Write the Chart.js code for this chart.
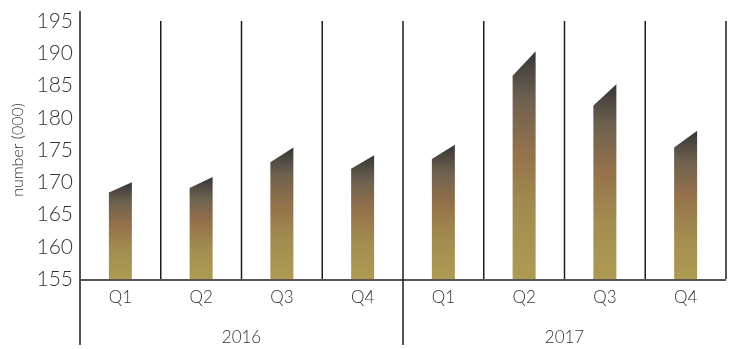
<!DOCTYPE html>
<html lang="en">
  <head>
    <meta charset="UTF-8" />
    <title>Quarterly numbers 2016-2017</title>
    <script src="https://cdn.jsdelivr.net/npm/chart.js@4.4.1/dist/chart.umd.min.js"></script>
    <style>
      body {
        margin: 0;
        background: #fff;
      }
      #chartContainer {
        width: 730px;
        height: 349px;
      }
    </style>
  </head>
  <body>
    <div id="chartContainer">
      <canvas id="quarterChart"></canvas>
    </div>

    <script>
      const quarters = ['Q1', 'Q2', 'Q3', 'Q4', 'Q1', 'Q2', 'Q3', 'Q4'];
      const years = ['2016', '2017'];
      // value at the right (high) edge of each bar
      const highValues = [170.0, 170.8, 175.4, 174.2, 175.8, 190.3, 185.2, 178.0];
      // value at the left (low) edge of the slanted top
      const lowValues = [168.4, 169.1, 173.1, 172.1, 173.6, 186.5, 181.9, 175.4];
      const yMin = 155;
      const yMax = 195;
      const yStep = 5;

      const textColor = '#333';
      const fontFamily = "Lato, 'DejaVu Sans', sans-serif";

      // frame lines: y axis, baseline, quarter and year dividers
      const frameLines = {
        id: 'frameLines',
        beforeDatasetsDraw(chart) {
          const { ctx, scales: { x, y } } = chart;
          const top = y.getPixelForValue(yMax);
          const base = y.getPixelForValue(yMin);
          const left = x.getPixelForValue(-0.5);
          const right = x.getPixelForValue(quarters.length - 0.5);
          ctx.save();
          ctx.strokeStyle = '#1c1c1c';
          ctx.lineWidth = 1.5;
          for (let i = 1; i <= quarters.length; i++) {
            const px = x.getPixelForValue(i - 0.5);
            const yearEnd = i === quarters.length / years.length;
            ctx.beginPath();
            ctx.moveTo(px, top);
            ctx.lineTo(px, yearEnd ? chart.height - 4 : base);
            ctx.stroke();
          }
          ctx.beginPath();
          ctx.moveTo(left, base + 1);
          ctx.lineTo(right, base + 1);
          ctx.stroke();

          ctx.strokeStyle = '#555';
          ctx.lineWidth = 2;
          ctx.beginPath();
          ctx.moveTo(left, top - 10);
          ctx.lineTo(left, chart.height - 4);
          ctx.stroke();
          ctx.restore();
        },
      };

      // bars with a slanted top, shaded bottom to top
      const slantBars = {
        id: 'slantBars',
        afterDatasetsDraw(chart) {
          const { ctx, scales: { y } } = chart;
          const meta = chart.getDatasetMeta(0);
          const base = y.getPixelForValue(yMin);
          ctx.save();
          meta.data.forEach((bar, i) => {
            const { x, width } = bar.getProps(['x', 'width'], true);
            const yHigh = y.getPixelForValue(highValues[i]);
            const yLow = y.getPixelForValue(lowValues[i]);
            const l = x - width / 2;
            const r = x + width / 2;
            const grad = ctx.createLinearGradient(0, base, 0, yHigh);
            grad.addColorStop(0, '#ae9b52');
            grad.addColorStop(0.3, '#a28c50');
            grad.addColorStop(0.56, '#94714a');
            grad.addColorStop(0.8, '#6c604f');
            grad.addColorStop(1, '#363636');
            ctx.fillStyle = grad;
            ctx.beginPath();
            ctx.moveTo(l, base);
            ctx.lineTo(l, yLow);
            ctx.lineTo(r, yHigh);
            ctx.lineTo(r, base);
            ctx.closePath();
            ctx.fill();
          });
          ctx.restore();
        },
      };

      const ctx = document.getElementById('quarterChart').getContext('2d');
      const chart = new Chart(ctx, {
        type: 'bar',
        data: {
          labels: quarters,
          datasets: [
            {
              data: highValues,
              backgroundColor: 'rgba(0,0,0,0)',
              borderWidth: 0,
              barThickness: 23,
            },
          ],
        },
        options: {
          responsive: true,
          maintainAspectRatio: false,
          animation: false,
          layout: { padding: { top: 21, right: 4, left: 0, bottom: 0 } },
          plugins: {
            legend: { display: false },
            tooltip: { enabled: false },
          },
          scales: {
            y: {
              min: yMin,
              max: yMax,
              grid: { display: false, drawTicks: false },
              border: { display: false },
              ticks: {
                stepSize: yStep,
                padding: 7,
                color: textColor,
                font: { family: fontFamily, size: 21, weight: '300' },
              },
              title: {
                display: true,
                text: 'number (000)',
                color: textColor,
                padding: { top: 8, bottom: 0 },
                font: { family: fontFamily, size: 16, weight: '300' },
              },
              afterFit(scale) {
                scale.width = 80;
              },
            },
            x: {
              grid: { display: false, drawTicks: false },
              border: { display: false },
              ticks: {
                padding: 8,
                color: textColor,
                font: { family: fontFamily, size: 17, weight: '300' },
              },
              afterFit(scale) {
                scale.height = 38;
              },
            },
            years: {
              type: 'category',
              position: 'bottom',
              labels: years,
              offset: true,
              weight: 1,
              grid: { display: false, drawTicks: false },
              border: { display: false },
              ticks: {
                padding: 10,
                color: textColor,
                font: { family: fontFamily, size: 17, weight: '300' },
              },
              afterFit(scale) {
                scale.height = 32;
              },
            },
          },
        },
        plugins: [frameLines, slantBars],
      });
    </script>
  </body>
</html>
